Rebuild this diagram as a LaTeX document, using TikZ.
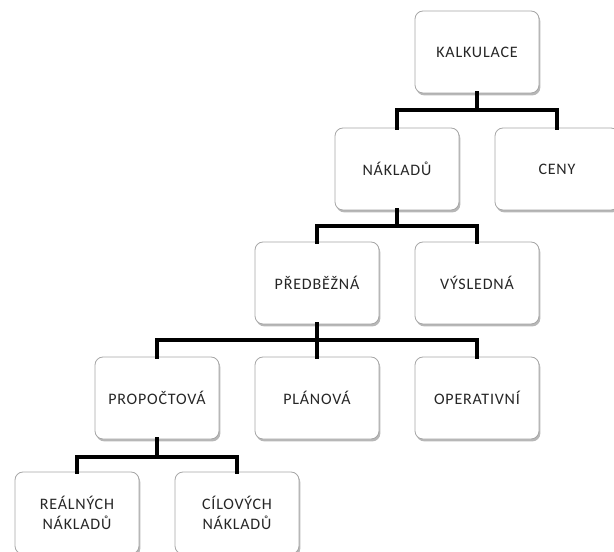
\documentclass[tikz,border=0pt]{standalone}
\usepackage{fontspec}
\setmainfont{Carlito}[LetterSpace=5]
\usetikzlibrary{shadows}
\begin{document}
\begin{tikzpicture}[x=0.75pt,y=-0.75pt,
  box/.style={draw=black!35, line width=0.6pt, fill=white, rounded corners=6pt,
    minimum width=93pt, minimum height=61.5pt, align=center,
    font=\fontsize{12}{15}\selectfont, text=black!85,
    drop shadow={shadow xshift=1pt,shadow yshift=-1.8pt,opacity=0.4,fill=black!70}},
  conn/.style={line width=3pt, line join=miter, line cap=rect}]
\useasboundingbox (0,0) rectangle (614,552);
% level 1
\node[box] (kal) at (477,52) {KALKULACE};
% level 2
\node[box] (nak) at (397,169) {NÁKLADŮ};
\node[box] (ceny) at (557,169) {CENY};
% level 3
\node[box] (pred) at (317,283) {PŘEDBĚŽNÁ};
\node[box] (vys) at (477,283) {VÝSLEDNÁ};
% level 4
\node[box] (prop) at (157,398) {PROPOČTOVÁ};
\node[box] (plan) at (317,398) {PLÁNOVÁ};
\node[box] (oper) at (477,398) {OPERATIVNÍ};
% level 5
\node[box] (real) at (77,513) {REÁLNÝCH\\NÁKLADŮ};
\node[box] (cil) at (237,513) {CÍLOVÝCH\\NÁKLADŮ};
% junctions
\coordinate (j1) at (477,110);
\coordinate (j2) at (397,226);
\coordinate (j3) at (317,340);
\coordinate (j4) at (157,457);
% connectors
\draw[conn] (kal.south) -- (j1);
\draw[conn] (nak.north) |- (j1) -| (ceny.north);
\draw[conn] (nak.south) -- (j2);
\draw[conn] (pred.north) |- (j2) -| (vys.north);
\draw[conn] (pred.south) -- (plan.north);
\draw[conn] (prop.north) |- (j3) -| (oper.north);
\draw[conn] (prop.south) -- (j4);
\draw[conn] (real.north) |- (j4) -| (cil.north);
\end{tikzpicture}
\end{document}
